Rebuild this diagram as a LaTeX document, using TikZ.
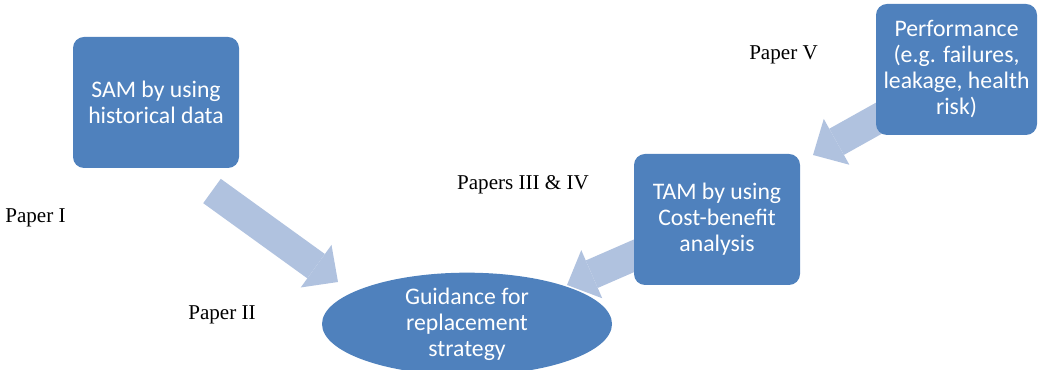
\documentclass[tikz,border=0pt]{standalone}
\usepackage{fontspec}
\setmainfont{Liberation Serif}
\newfontfamily\boxfont{Carlito}
\usetikzlibrary{shapes.geometric,arrows.meta}
\definecolor{boxblue}{RGB}{79,129,189}
\definecolor{arrowblue}{RGB}{176,194,223}
\begin{document}
\begin{tikzpicture}[
    stepbox/.style = {rectangle, rounded corners=0.22cm, fill=boxblue, text=white,
      align=center, font=\boxfont\fontsize{13.5}{14.8}\selectfont,
      minimum width=3.32cm, minimum height=2.62cm, inner sep=0pt},
    goal/.style = {ellipse, fill=boxblue, text=white, align=center,
      font=\boxfont\fontsize{13.5}{14.8}\selectfont,
      minimum width=5.8cm, minimum height=1.76cm, inner sep=0pt},
    paper/.style = {font=\fontsize{12}{14}\selectfont, inner sep=0pt},
    flow/.style = {draw=arrowblue, line width=0.6cm,
      -{Triangle[width=1.05cm, length=0.54cm, line width=0pt, color=arrowblue]}}
  ]
  \useasboundingbox (0,0) rectangle (20.82,7.4);
  % arrow ends
  \coordinate (samtail) at (4.24,3.58);
  \coordinate (samtip) at (6.76,1.76);
  \coordinate (tamtail) at (12.9,2.38);
  \coordinate (tamtip) at (11.34,1.70);
  \coordinate (perftail) at (17.8,5.16);
  \coordinate (perftip) at (16.26,4.30);
  % arrows first, boxes on top
  \draw[flow] (samtail) -- (samtip);
  \draw[flow] (tamtail) -- (tamtip);
  \draw[flow] (perftail) -- (perftip);
  % boxes
  \node[stepbox] (sam) at (3.12,5.35) {SAM by using\\historical data};
  \node[stepbox] (tam) at (14.34,3.01) {TAM by using\\Cost-benefit\\analysis};
  \node[stepbox, minimum width=3.22cm] (perf) at (19.13,6.01) {Performance\\(e.g. failures,\\leakage, health\\risk)};
  \node[goal] (guide) at (9.34,0.92) {Guidance for\\replacement\\strategy};
  % paper labels
  \node[paper] (p1) at (0.71,3.05) {Paper I};
  \node[paper] (p2) at (4.44,1.10) {Paper II};
  \node[paper] (p34) at (10.46,3.70) {Papers III \& IV};
  \node[paper] (p5) at (15.67,6.30) {Paper V};
\end{tikzpicture}
\end{document}
